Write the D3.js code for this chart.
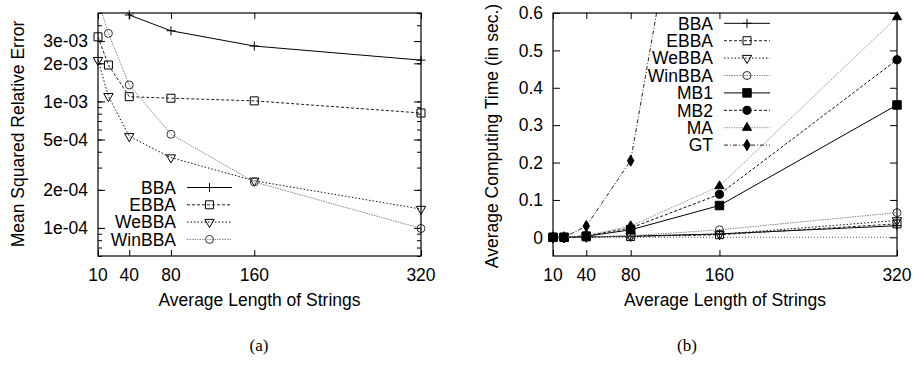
<!DOCTYPE html>
<html><head><meta charset="utf-8">
<script src="https://cdn.jsdelivr.net/npm/d3@7"></script>
<style>
html,body{margin:0;padding:0;background:#fff;}
text{font-family:"Liberation Sans",Arial,sans-serif;}
</style></head>
<body><svg id="c" width="914" height="370"></svg>
<script>
// ---------- data ----------
const xVals = [10, 20, 40, 80, 160, 320];
const xTickLabels = [10, 40, 80, 160, 320];

// (a) Mean squared relative error
const errSeriesNames = ["BBA", "EBBA", "WeBBA", "WinBBA"];
const bbaErr    = [1.0e-2, 7.0e-3, 4.82e-3, 3.62e-3, 2.74e-3, 2.12e-3];
const ebbaErr   = [3.24e-3, 1.94e-3, 1.09e-3, 1.06e-3, 1.01e-3, 8.1e-4];
const webbaErr  = [2.12e-3, 1.10e-3, 5.3e-4, 3.6e-4, 2.36e-4, 1.41e-4];
const winbbaErr = [6.3e-3, 3.45e-3, 1.35e-3, 5.5e-4, 2.31e-4, 9.9e-5];
const errTickLabels = ["3e-03", "2e-03", "1e-03", "5e-04", "2e-04", "1e-04"];
const errTickValues = [3e-3, 2e-3, 1e-3, 5e-4, 2e-4, 1e-4];

// (b) Average computing time
const timeSeriesNames = ["BBA", "EBBA", "WeBBA", "WinBBA", "MB1", "MB2", "MA", "GT"];
const bbaTime    = [0, 0, 0.001, 0.003, 0.009, 0.031];
const ebbaTime   = [0, 0, 0.001, 0.002, 0.007, 0.036];
const webbaTime  = [0, 0, 0.001, 0.003, 0.008, 0.045];
const winbbaTime = [0, 0, 0.001, 0.004, 0.020, 0.066];
const mb1Time    = [0, 0, 0.003, 0.020, 0.085, 0.354];
const mb2Time    = [0, 0, 0.004, 0.025, 0.115, 0.475];
const maTime     = [0, 0, 0.005, 0.030, 0.137, 0.589];
const gtTime     = [0, 0, 0.030, 0.205, 1.56];
const timeTickValues = [0, 0.1, 0.2, 0.3, 0.4, 0.5, 0.6];
const timeTickLabels = ["0", "0.1", "0.2", "0.3", "0.4", "0.5", "0.6"];

// ---------- styles ----------
const styles = {
  BBA:    {dash:null,          color:"#000", mark:"plus",   fill:false},
  EBBA:   {dash:"3,2",         color:"#222", mark:"square", fill:false},
  WeBBA:  {dash:"1.5,2",       color:"#111", mark:"tri",    fill:false},
  WinBBA: {dash:"1.5,1",       color:"#888", mark:"circle", fill:false, mcolor:"#333"},
  MB1:    {dash:null,          color:"#000", mark:"square", fill:true},
  MB2:    {dash:"3,2",         color:"#111", mark:"circle", fill:true},
  MA:     {dash:"1.5,1",       color:"#999", mark:"triup",  fill:true, mcolor:"#000"},
  GT:     {dash:"4,2,1,2",     color:"#222", mark:"diamond",fill:true}
};

const svg = d3.select("#c");
const FS = 17.5;   // font size

function htext(g, x, y, str, anchor) {
  return g.append("text").attr("x", x).attr("y", y)
    .attr("text-anchor", anchor).attr("font-size", FS).text(str);
}

function marker(g, type, x, y, fill, col) {
  const f = fill ? col : "none";
  if (type === "plus") {
    g.append("path").attr("d", `M${x-4.5},${y}H${x+4.5}M${x},${y-4.5}V${y+4.5}`)
      .attr("stroke", col).attr("stroke-width", 1).attr("fill", "none");
    return;
  }
  let sym, size, rot = 0;
  if (type === "square") { sym = d3.symbolSquare; size = fill ? 72 : 64; }
  else if (type === "circle") { sym = d3.symbolCircle; size = fill ? 52 : 50; }
  else if (type === "tri") { sym = d3.symbolTriangle; size = 38; rot = 180; }
  else if (type === "triup") { sym = d3.symbolTriangle; size = 36; }
  else if (type === "diamond") { sym = d3.symbolDiamond; size = 36; }
  g.append("path").attr("d", d3.symbol(sym, size)())
    .attr("transform", `translate(${x},${y}) rotate(${rot})`)
    .attr("fill", f).attr("stroke", col).attr("stroke-width", 1);
}

function tickAxis(g, axis, tx, ty) {
  g.append("g").attr("transform", `translate(${tx},${ty})`).call(axis)
    .call(a => { a.select(".domain").remove(); a.selectAll("line").attr("stroke","#000"); });
}

function drawPanel(cfg) {
  const {left, right, top, bottom, y, seriesNames, series, legend, id} = cfg;
  const x = d3.scaleLinear().domain([10, 320]).range([left, right]);
  const g = svg.append("g");
  g.append("clipPath").attr("id", id).append("rect")
    .attr("x", left).attr("y", top).attr("width", right-left).attr("height", bottom-top);

  // x ticks (bottom & top, inward)
  tickAxis(g, d3.axisBottom(x).tickValues(xTickLabels).tickSize(-6).tickFormat(""), 0, bottom);
  tickAxis(g, d3.axisTop(x).tickValues(xTickLabels).tickSize(-6).tickFormat(""), 0, top);
  xTickLabels.forEach(d => htext(g, x(d), bottom + 25, d, "middle"));

  // y ticks
  cfg.yTicks(g);

  // zero axis
  if (cfg.zero) {
    g.append("line").attr("x1", left).attr("x2", right).attr("y1", y(0)).attr("y2", y(0))
      .attr("stroke", "#333").attr("stroke-width", 0.8).attr("stroke-dasharray", "1,2");
  }

  // series
  const lineGen = d3.line().x(d => x(d[0])).y(d => y(d[1]));
  const [yMin, yMax] = y.domain();
  seriesNames.forEach((name, i) => {
    const st = styles[name];
    const pts = series[i].map((v, j) => [xVals[j], v]);
    g.append("path").attr("d", lineGen(pts)).attr("clip-path", `url(#${id})`)
      .attr("fill", "none").attr("stroke", st.color).attr("stroke-width", 1)
      .attr("stroke-dasharray", st.dash);
    pts.forEach(p => {
      if (p[1] >= yMin && p[1] <= yMax) marker(g, st.mark, x(p[0]), y(p[1]), st.fill, st.mcolor || "#000");
    });
  });

  // frame
  g.append("rect").attr("x", left).attr("y", top).attr("width", right-left).attr("height", bottom-top)
    .attr("fill", "none").attr("stroke", "#000").attr("stroke-width", 1.2);

  // legend
  seriesNames.forEach((name, i) => {
    const st = styles[name];
    const ly = legend.y0 + i * legend.dy;
    htext(g, legend.tx, ly + 6.3, name, "end");
    g.append("line").attr("x1", legend.lx1).attr("x2", legend.lx2).attr("y1", ly).attr("y2", ly)
      .attr("stroke", st.color).attr("stroke-width", 1).attr("stroke-dasharray", st.dash);
    marker(g, st.mark, (legend.lx1 + legend.lx2) / 2, ly, st.fill, st.mcolor || "#000");
  });

  // axis titles
  htext(g, (left + right) / 2, bottom + 50, "Average Length of Strings", "middle");
  g.append("text").attr("transform", `translate(${cfg.ylabX},${cfg.ylabY}) rotate(-90)`)
    .attr("text-anchor", "middle").attr("font-size", FS).text(cfg.ylab);
  svg.append("text").attr("x", cfg.capX).attr("y", 351).attr("text-anchor", "middle")
    .style("font-family", "'Liberation Serif','DejaVu Serif',serif").attr("font-size", 17).text(cfg.cap);
}

// ---------- panel (a) ----------
const aTop = 13, aBottom = 256, aLeft = 98, aRight = 421;
const yA = d3.scaleLog().domain([6e-5, 5e-3]).range([aBottom, aTop]);
drawPanel({
  id: "clipA", left: aLeft, right: aRight, top: aTop, bottom: aBottom, y: yA,
  seriesNames: errSeriesNames, series: [bbaErr, ebbaErr, webbaErr, winbbaErr],
  legend: {tx: 176, lx1: 187, lx2: 232, y0: 187.5, dy: 17.3},
  ylab: "Mean Squared Relative Error", ylabX: 24, ylabY: 134,
  cap: "(a)", capX: 259,
  yTicks: (g) => {
    const minor = [];
    for (let e = -5; e <= -3; e++) for (let k = 1; k <= 9; k++) {
      const v = k * Math.pow(10, e);
      if (v >= 6e-5 && v <= 5e-3) minor.push(v);
    }
    tickAxis(g, d3.axisLeft(yA).tickValues(minor).tickSize(-4).tickFormat(""), aLeft, 0);
    tickAxis(g, d3.axisRight(yA).tickValues(minor).tickSize(-4).tickFormat(""), aRight, 0);
    tickAxis(g, d3.axisLeft(yA).tickValues(errTickValues).tickSize(-7).tickFormat(""), aLeft, 0);
    tickAxis(g, d3.axisRight(yA).tickValues(errTickValues).tickSize(-7).tickFormat(""), aRight, 0);
    errTickValues.forEach((d, i) => htext(g, aLeft - 10, yA(d) + 6.3, errTickLabels[i], "end"));
  }
});

// ---------- panel (b) ----------
const bTop = 13, bBottom = 256, bLeft = 553, bRight = 897;
const yB = d3.scaleLinear().domain([-0.05, 0.6]).range([bBottom, bTop]);
drawPanel({
  id: "clipB", left: bLeft, right: bRight, top: bTop, bottom: bBottom, y: yB, zero: true,
  seriesNames: timeSeriesNames,
  series: [bbaTime, ebbaTime, webbaTime, winbbaTime, mb1Time, mb2Time, maTime, gtTime],
  legend: {tx: 713, lx1: 724, lx2: 770, y0: 23.3, dy: 17.4},
  ylab: "Average Computing Time (in sec.)", ylabX: 498, ylabY: 136,
  cap: "(b)", capX: 687,
  yTicks: (g) => {
    tickAxis(g, d3.axisLeft(yB).tickValues(timeTickValues).tickSize(-7).tickFormat(""), bLeft, 0);
    tickAxis(g, d3.axisRight(yB).tickValues(timeTickValues).tickSize(-7).tickFormat(""), bRight, 0);
    timeTickValues.forEach((d, i) => htext(g, bLeft - 10, yB(d) + 6.3, timeTickLabels[i], "end"));
  }
});
</script></body></html>
